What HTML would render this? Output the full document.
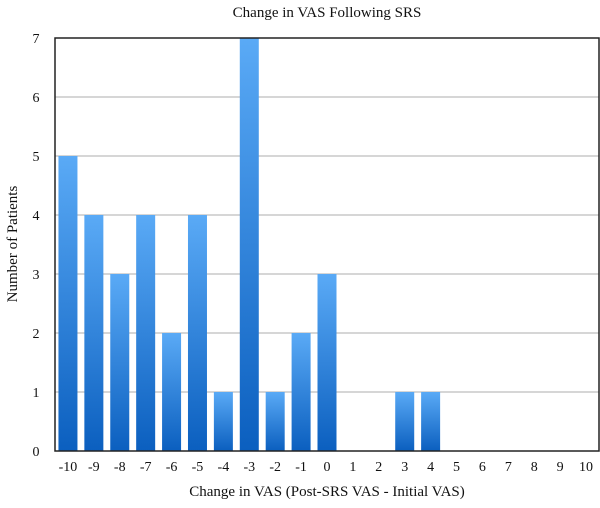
<!DOCTYPE html>
<html><head><meta charset="utf-8"><style>
body{margin:0;background:#fff;}
svg text{font-family:"Liberation Serif",serif;fill:#111;}
</style></head><body>
<svg id="chart" width="600" height="503">
<defs>
<linearGradient id="bg" x1="0" y1="0" x2="0" y2="1">
<stop offset="0" stop-color="#5aaaf6"/><stop offset="1" stop-color="#0b5fbf"/>
</linearGradient>
</defs>
<text x="327" y="17" font-size="15" text-anchor="middle">Change in VAS Following SRS</text>
<text x="327" y="496" font-size="15" text-anchor="middle">Change in VAS (Post-SRS VAS - Initial VAS)</text>
<text transform="translate(17,244) rotate(-90)" font-size="15" text-anchor="middle">Number of Patients</text>
<g id="grid"></g><g id="bars"></g><g id="ticks"></g>
<rect x="55" y="38" width="544" height="413" fill="none" stroke="#222" stroke-width="1.5"/>
</svg>
<script>
const categories=[-10,-9,-8,-7,-6,-5,-4,-3,-2,-1,0,1,2,3,4,5,6,7,8,9,10];
const counts=[5,4,3,4,2,4,1,7,1,2,3,0,0,1,1,0,0,0,0,0,0];
const yTicks=[0,1,2,3,4,5,6,7];
const L=55,T=38,W=544,H=413,yMax=7,band=W/categories.length,bw=19;
const NS="http://www.w3.org/2000/svg";
const x=i=>L+band*i+band/2, y=v=>T+H-v/yMax*H;
function mk(t,a,p){const e=document.createElementNS(NS,t);for(const k in a)e.setAttribute(k,a[k]);p.appendChild(e);return e;}
const g=document.getElementById('grid'),b=document.getElementById('bars'),tk=document.getElementById('ticks');
yTicks.forEach(v=>{
 if(v>0&&v<yMax){const ln=mk('line',{x1:L,x2:L+W,y1:y(v),y2:y(v),stroke:'#c8c8c8','stroke-width':1.5},g);
 
 }
 const t=mk('text',{x:36,y:y(v)+5,'font-size':14,'text-anchor':'middle'},tk);t.textContent=v;
 
 
});
categories.forEach((c,i)=>{
 if(counts[i]>0){const r=mk('rect',{x:x(i)-bw/2,y:y(counts[i]),width:bw,height:y(0)-y(counts[i]),fill:'url(#bg)'},b);
 
 }
 const t=mk('text',{x:x(i),y:471,'font-size':14,'text-anchor':'middle'},tk);t.textContent=c;
 
 
});
</script>
</body></html>
